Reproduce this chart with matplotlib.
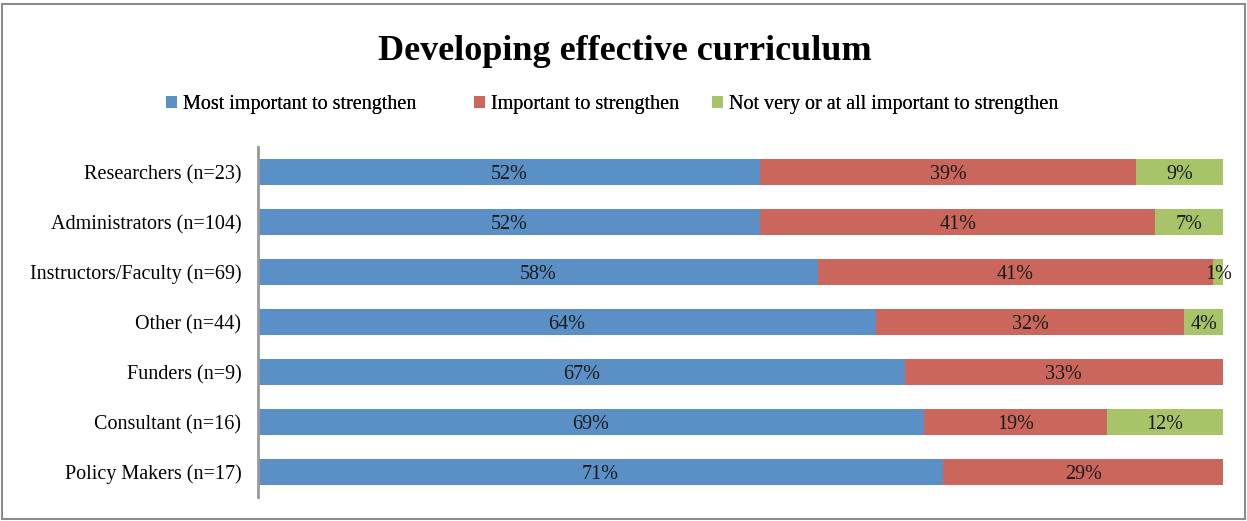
import matplotlib.pyplot as plt
from matplotlib.patches import Rectangle
import numpy as np

# Survey groups, top to bottom
groups = ['Researchers (n=23)', 'Administrators (n=104)', 'Instructors/Faculty (n=69)',
          'Other (n=44)', 'Funders (n=9)', 'Consultant (n=16)', 'Policy Makers (n=17)']
most_important = [52, 52, 58, 64, 67, 69, 71]
important = [39, 41, 41, 32, 33, 19, 29]
not_important = [9, 7, 1, 4, 0, 12, 0]

series_names = ['Most important to strengthen', 'Important to strengthen',
                'Not very or at all important to strengthen']
colors = ['#5A90C6', '#CA665C', '#A8C468']

plt.rcParams['font.family'] = ['Liberation Serif', 'DejaVu Serif']

fig = plt.figure(figsize=(12.47, 5.21), dpi=100)
fig.patches.append(Rectangle((0.002, 0.004), 0.996, 0.988, transform=fig.transFigure,
                             fill=False, edgecolor='#8C8C8C', linewidth=1.5))

ax = fig.add_axes([258 / 1247, 1 - 497 / 521, (1223 - 258) / 1247, 350 / 521])

y = np.arange(len(groups))
left = np.zeros(len(groups))
handles = []
for vals, name, col in zip([most_important, important, not_important], series_names, colors):
    vals = np.array(vals, dtype=float)
    bars = ax.barh(y, vals, left=left, height=0.52, color=col, label=name)
    handles.append(bars)
    for yi, l, v in zip(y, left, vals):
        if v > 0:
            ax.text(l + v / 2, yi, f'{int(v)}%', ha='center', va='center_baseline',
                    fontsize=14.5, color='#1a1a1a')
    left += vals

ax.set_xlim(0, 100)
ax.set_ylim(6.5, -0.5)
ax.set_yticks(y)
ax.set_yticklabels(groups, fontsize=14.5, va='center_baseline')
ax.tick_params(axis='y', length=0, pad=12)
ax.set_xticks([])
for s in ['top', 'right', 'bottom']:
    ax.spines[s].set_visible(False)
ax.spines['left'].set_color('#999999')
ax.spines['left'].set_linewidth(2)

fig.text(0.501, 1 - 48 / 521, 'Developing effective curriculum', ha='center', va='center_baseline',
         fontsize=26, fontweight='bold')

# one legend box per series so each entry sits at its own spot
for h, name, x0 in zip(handles, series_names, [166, 474, 712]):
    leg = fig.legend([h], [name], loc='center left', bbox_to_anchor=(x0 / 1247, 1 - 105 / 521),
                     frameon=False, fontsize=14.5, handlelength=0.55, handleheight=0.55,
                     handletextpad=0.3, borderpad=0, borderaxespad=0)
    fig.add_artist(leg)

fig.savefig('out.png', dpi=100)
